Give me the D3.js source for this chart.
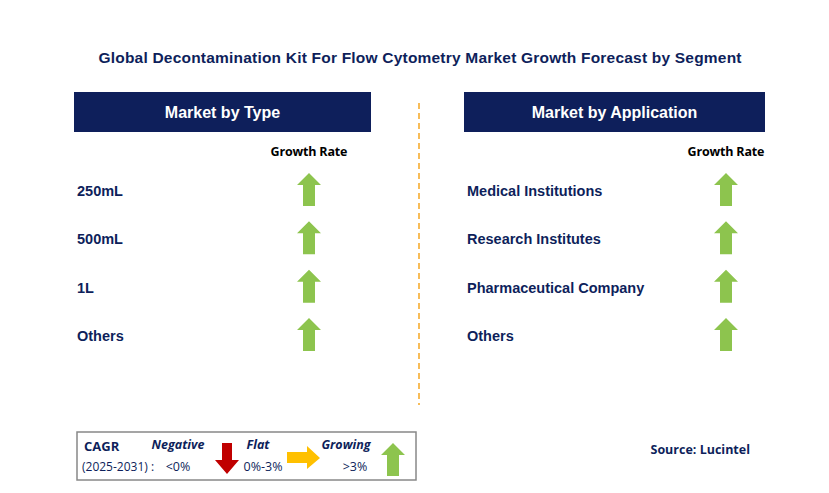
<!DOCTYPE html><html><head><meta charset="utf-8"><script src="https://cdn.jsdelivr.net/npm/d3@7"></script>
<style>body{margin:0;background:#fff}</style></head><body><svg id="c" width="829" height="493"></svg>
<script>
const title="Global Decontamination Kit For Flow Cytometry Market Growth Forecast by Segment";
const typeCategories=["250mL","500mL","1L","Others"];
const typeGrowth=["up","up","up","up"];
const appCategories=["Medical Institutions","Research Institutes","Pharmaceutical Company","Others"];
const appGrowth=["up","up","up","up"];
const panelTitles=["Market by Type","Market by Application"];
const source="Source: Lucintel";
const svg=d3.select("#c");
const navy="#0e1f5b",green="#8dc44e",red="#c00000",yellow="#ffc000";
const cal="'Open Sans', Arial";
svg.append("text").attr("x",420).attr("y",63).attr("text-anchor","middle").attr("font-family","Arial").attr("font-weight","bold").attr("font-size",15.5).attr("fill",navy).attr("textLength",643).text(title);
svg.append("line").attr("x1",419).attr("x2",419).attr("y1",103).attr("y2",405).attr("stroke","#f5a623").attr("stroke-width",1.5).attr("stroke-dasharray","6,4");
const y=d3.scalePoint().domain(d3.range(4)).range([190,335]);
function up(g,cx,cy,c){g.append("path").attr("d",`M${cx},${cy-17}L${cx+12},${cy-5}L${cx+6},${cy-5}L${cx+6},${cy+16}L${cx-6},${cy+16}L${cx-6},${cy-5}L${cx-12},${cy-5}Z`).attr("fill",c);}
function panel(x0,w,t,cats,ax){
 svg.append("rect").attr("x",x0).attr("y",92).attr("width",w).attr("height",40).attr("fill",navy);
 svg.append("text").attr("x",x0+w/2).attr("y",118).attr("text-anchor","middle").attr("fill","#fff").attr("font-family","Arial").attr("font-weight","bold").attr("font-size",16).text(t);
 svg.append("text").attr("x",ax).attr("y",156).attr("text-anchor","middle").attr("font-family",cal).attr("font-weight","bold").attr("font-size",12.5).attr("textLength",77).text("Growth Rate");
 cats.forEach((c,i)=>{svg.append("text").attr("x",x0+3).attr("y",y(i)+6).attr("font-family","Arial").attr("font-weight","bold").attr("font-size",14.5).attr("fill",navy).text(c);up(svg,ax,y(i),green);});
}
panel(74,297,panelTitles[0],typeCategories,309);
panel(464,301,panelTitles[1],appCategories,726);
svg.append("rect").attr("x",77).attr("y",432).attr("width",339).attr("height",48).attr("fill","none").attr("stroke","#888").attr("stroke-width",1.5);
const lt=(x,yy,t,o={})=>svg.append("text").attr("x",x).attr("y",yy).attr("font-family",cal).attr("font-size",o.s||12.5).attr("font-weight",o.b?"bold":"normal").attr("font-style",o.i?"italic":"normal").attr("fill",navy).attr("text-anchor",o.a||"start").text(t);
lt(84,451,"CAGR",{b:1,s:13});lt(82,471,"(2025-2031) :",{s:12});
lt(178,449,"Negative",{b:1,i:1,a:"middle"});lt(178,471,"<0%",{a:"middle"});
svg.append("path").attr("d","M222,443L232,443L232,460L239,460L227,474L215,460L222,460Z").attr("fill",red);
lt(258,449,"Flat",{b:1,i:1,a:"middle"});lt(263,471,"0%-3%",{a:"middle"});
svg.append("path").attr("d","M287,452L307,452L307,446L320,458L307,469L307,463L287,463Z").attr("fill",yellow);
lt(346,449,"Growing",{b:1,i:1,a:"middle"});lt(355,471,">3%",{a:"middle"});
up(svg,393,460,green);
svg.append("text").attr("x",750).attr("y",454).attr("text-anchor","end").attr("font-family",cal).attr("font-weight","bold").attr("font-size",12.5).attr("fill",navy).text(source);
</script></body></html>
